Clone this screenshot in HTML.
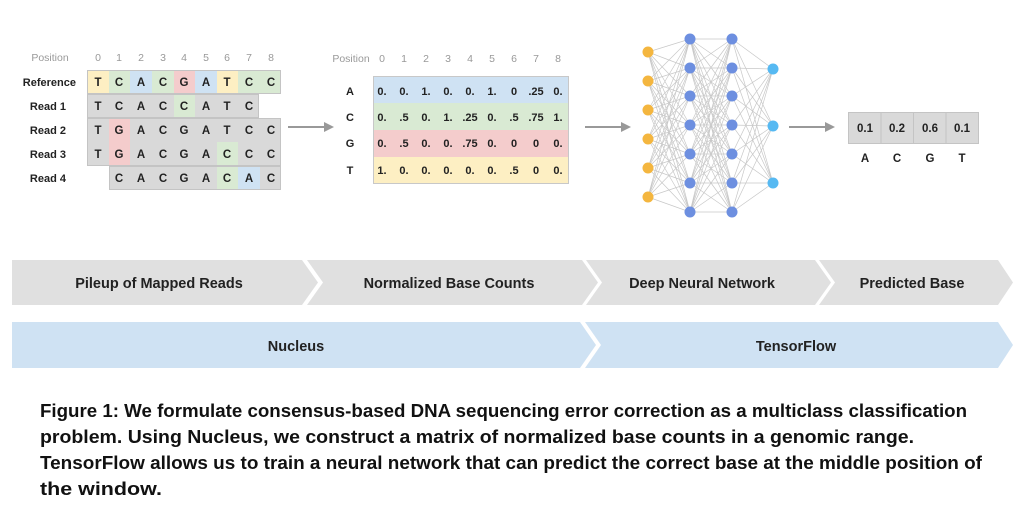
<!DOCTYPE html>
<html><head><meta charset="utf-8"><style>
html,body{margin:0;padding:0;background:#fff;}
svg{display:block;font-family:"Liberation Sans",sans-serif;}
</style></head><body>
<svg width="1024" height="512" viewBox="0 0 1024 512" xmlns="http://www.w3.org/2000/svg">
<rect width="1024" height="512" fill="#fff"/>
<g font-size="10.5" fill="#999" text-anchor="middle">
<text x="50" y="61">Position</text>
<text x="98" y="61">0</text><text x="119" y="61">1</text><text x="141" y="61">2</text><text x="163" y="61">3</text><text x="184" y="61">4</text><text x="206" y="61">5</text><text x="227" y="61">6</text><text x="249" y="61">7</text><text x="271" y="61">8</text>
</g>
<g font-size="11" font-weight="bold" fill="#222" text-anchor="end">
<text x="76" y="86">Reference</text><text x="66" y="110">Read 1</text><text x="66" y="134">Read 2</text><text x="66" y="158">Read 3</text><text x="66" y="182">Read 4</text>
</g>
<g stroke="none">
<rect x="87" y="70" width="22" height="24" fill="#fdefc3"/>
<rect x="109" y="70" width="21" height="24" fill="#d9ead3"/>
<rect x="130" y="70" width="22" height="24" fill="#cfe2f3"/>
<rect x="152" y="70" width="22" height="24" fill="#d9ead3"/>
<rect x="174" y="70" width="21" height="24" fill="#f4cccc"/>
<rect x="195" y="70" width="22" height="24" fill="#cfe2f3"/>
<rect x="217" y="70" width="21" height="24" fill="#fdefc3"/>
<rect x="238" y="70" width="43" height="24" fill="#d9ead3"/>
<rect x="87" y="94" width="172" height="24" fill="#d9d9d9"/>
<rect x="174" y="94" width="21" height="24" fill="#d9ead3"/>
<rect x="87" y="118" width="194" height="48" fill="#d9d9d9"/>
<rect x="109" y="118" width="21" height="48" fill="#f4cccc"/>
<rect x="217" y="142" width="21" height="24" fill="#d9ead3"/>
<rect x="109" y="166" width="172" height="24" fill="#d9d9d9"/>
<rect x="217" y="166" width="21" height="24" fill="#d9ead3"/>
<rect x="238" y="166" width="22" height="24" fill="#cfe2f3"/>
</g>
<g fill="none" stroke="#c4c4c4" stroke-width="1">
<rect x="87.5" y="70.5" width="193" height="23"/>
<rect x="87.5" y="94.5" width="171" height="23"/>
<rect x="87.5" y="118.5" width="193" height="47"/>
<rect x="109.5" y="166.5" width="171" height="23"/>
</g>
<g font-size="11.5" font-weight="bold" fill="#222" text-anchor="middle">
<g transform="translate(0,86)"><text x="98">T</text><text x="119">C</text><text x="141">A</text><text x="163">C</text><text x="184">G</text><text x="206">A</text><text x="227">T</text><text x="249">C</text><text x="271">C</text></g>
<g transform="translate(0,110)"><text x="98">T</text><text x="119">C</text><text x="141">A</text><text x="163">C</text><text x="184">C</text><text x="206">A</text><text x="227">T</text><text x="249">C</text></g>
<g transform="translate(0,134)"><text x="98">T</text><text x="119">G</text><text x="141">A</text><text x="163">C</text><text x="184">G</text><text x="206">A</text><text x="227">T</text><text x="249">C</text><text x="271">C</text></g>
<g transform="translate(0,158)"><text x="98">T</text><text x="119">G</text><text x="141">A</text><text x="163">C</text><text x="184">G</text><text x="206">A</text><text x="227">C</text><text x="249">C</text><text x="271">C</text></g>
<g transform="translate(0,182)"><text x="119">C</text><text x="141">A</text><text x="163">C</text><text x="184">G</text><text x="206">A</text><text x="227">C</text><text x="249">A</text><text x="271">C</text></g>
</g>
<g stroke="#999" stroke-width="2" fill="#999">
<line x1="288" y1="127" x2="325" y2="127"/><polygon points="324,122 334,127 324,132" stroke="none"/>
<line x1="585" y1="127" x2="622" y2="127"/><polygon points="621,122 631,127 621,132" stroke="none"/>
<line x1="789" y1="127" x2="826" y2="127"/><polygon points="825,122 835,127 825,132" stroke="none"/>
</g>
<g font-size="10.5" fill="#999" text-anchor="middle">
<text x="351" y="62">Position</text>
<text x="382" y="62">0</text><text x="404" y="62">1</text><text x="426" y="62">2</text><text x="448" y="62">3</text><text x="470" y="62">4</text><text x="492" y="62">5</text><text x="514" y="62">6</text><text x="536" y="62">7</text><text x="558" y="62">8</text>
</g>
<rect x="373" y="76" width="196" height="27" fill="#cfe2f3"/>
<rect x="373" y="103" width="196" height="27" fill="#d9ead3"/>
<rect x="373" y="130" width="196" height="27" fill="#f4cccc"/>
<rect x="373" y="157" width="196" height="27" fill="#fdefc3"/>
<rect x="373.5" y="76.5" width="195" height="107" fill="none" stroke="#c8c8c8"/>
<g font-size="11" font-weight="bold" fill="#222" text-anchor="middle">
<text x="350" y="95">A</text><text x="350" y="121">C</text><text x="350" y="147">G</text><text x="350" y="174">T</text>
<g transform="translate(0,95)"><text x="382">0.</text><text x="404">0.</text><text x="426">1.</text><text x="448">0.</text><text x="470">0.</text><text x="492">1.</text><text x="514">0</text><text x="536">.25</text><text x="558">0.</text></g>
<g transform="translate(0,121)"><text x="382">0.</text><text x="404">.5</text><text x="426">0.</text><text x="448">1.</text><text x="470">.25</text><text x="492">0.</text><text x="514">.5</text><text x="536">.75</text><text x="558">1.</text></g>
<g transform="translate(0,147)"><text x="382">0.</text><text x="404">.5</text><text x="426">0.</text><text x="448">0.</text><text x="470">.75</text><text x="492">0.</text><text x="514">0</text><text x="536">0</text><text x="558">0.</text></g>
<g transform="translate(0,174)"><text x="382">1.</text><text x="404">0.</text><text x="426">0.</text><text x="448">0.</text><text x="470">0.</text><text x="492">0.</text><text x="514">.5</text><text x="536">0</text><text x="558">0.</text></g>
</g>
<g stroke="#c8c8c8" stroke-width="0.7" fill="none">
<path d="M648 52L690 39M648 52L690 68M648 52L690 96M648 52L690 125M648 52L690 154M648 52L690 183M648 52L690 212
M648 81L690 39M648 81L690 68M648 81L690 96M648 81L690 125M648 81L690 154M648 81L690 183M648 81L690 212
M648 110L690 39M648 110L690 68M648 110L690 96M648 110L690 125M648 110L690 154M648 110L690 183M648 110L690 212
M648 139L690 39M648 139L690 68M648 139L690 96M648 139L690 125M648 139L690 154M648 139L690 183M648 139L690 212
M648 168L690 39M648 168L690 68M648 168L690 96M648 168L690 125M648 168L690 154M648 168L690 183M648 168L690 212
M648 197L690 39M648 197L690 68M648 197L690 96M648 197L690 125M648 197L690 154M648 197L690 183M648 197L690 212"/>
<path d="M690 39L732 39M690 39L732 68M690 39L732 96M690 39L732 125M690 39L732 154M690 39L732 183M690 39L732 212
M690 68L732 39M690 68L732 68M690 68L732 96M690 68L732 125M690 68L732 154M690 68L732 183M690 68L732 212
M690 96L732 39M690 96L732 68M690 96L732 96M690 96L732 125M690 96L732 154M690 96L732 183M690 96L732 212
M690 125L732 39M690 125L732 68M690 125L732 96M690 125L732 125M690 125L732 154M690 125L732 183M690 125L732 212
M690 154L732 39M690 154L732 68M690 154L732 96M690 154L732 125M690 154L732 154M690 154L732 183M690 154L732 212
M690 183L732 39M690 183L732 68M690 183L732 96M690 183L732 125M690 183L732 154M690 183L732 183M690 183L732 212
M690 212L732 39M690 212L732 68M690 212L732 96M690 212L732 125M690 212L732 154M690 212L732 183M690 212L732 212"/>
<path d="M732 39L773 69M732 39L773 126M732 39L773 183M732 68L773 69M732 68L773 126M732 68L773 183M732 96L773 69M732 96L773 126M732 96L773 183M732 125L773 69M732 125L773 126M732 125L773 183M732 154L773 69M732 154L773 126M732 154L773 183M732 183L773 69M732 183L773 126M732 183L773 183M732 212L773 69M732 212L773 126M732 212L773 183"/>
</g>
<g fill="#f4b63f">
<circle cx="648" cy="52" r="5.5"/><circle cx="648" cy="81" r="5.5"/><circle cx="648" cy="110" r="5.5"/><circle cx="648" cy="139" r="5.5"/><circle cx="648" cy="168" r="5.5"/><circle cx="648" cy="197" r="5.5"/>
</g>
<g fill="#6d8fe0">
<circle cx="690" cy="39" r="5.5"/><circle cx="690" cy="68" r="5.5"/><circle cx="690" cy="96" r="5.5"/><circle cx="690" cy="125" r="5.5"/><circle cx="690" cy="154" r="5.5"/><circle cx="690" cy="183" r="5.5"/><circle cx="690" cy="212" r="5.5"/>
<circle cx="732" cy="39" r="5.5"/><circle cx="732" cy="68" r="5.5"/><circle cx="732" cy="96" r="5.5"/><circle cx="732" cy="125" r="5.5"/><circle cx="732" cy="154" r="5.5"/><circle cx="732" cy="183" r="5.5"/><circle cx="732" cy="212" r="5.5"/>
</g>
<g fill="#56b9f2">
<circle cx="773" cy="69" r="5.5"/><circle cx="773" cy="126" r="5.5"/><circle cx="773" cy="183" r="5.5"/>
</g>
<rect x="848.5" y="112.5" width="130" height="31" fill="#d9d9d9" stroke="#c4c4c4"/>
<g stroke="#c4c4c4"><line x1="881" y1="113" x2="881" y2="143"/><line x1="913.5" y1="113" x2="913.5" y2="143"/><line x1="946" y1="113" x2="946" y2="143"/></g>
<g font-size="11.5" font-weight="bold" fill="#222" text-anchor="middle">
<text x="865" y="132">0.1</text><text x="897" y="132">0.2</text><text x="930" y="132">0.6</text><text x="962" y="132">0.1</text>
<text x="865" y="162">A</text><text x="897" y="162">C</text><text x="930" y="162">G</text><text x="962" y="162">T</text>
</g>
<g fill="#e0e0e0">
<polygon points="12,260 302,260 318,282.5 302,305 12,305"/>
<polygon points="307,260 582,260 598,282.5 582,305 307,305 323,282.5"/>
<polygon points="586,260 815,260 831,282.5 815,305 586,305 602,282.5"/>
<polygon points="819,260 998,260 1013,282.5 998,305 819,305 835,282.5"/>
</g>
<g fill="#cfe2f3">
<polygon points="12,322 580,322 596,345 580,368 12,368"/>
<polygon points="585,322 998,322 1013,345 998,368 585,368 601,345"/>
</g>
<g font-size="14.5" font-weight="bold" fill="#222" text-anchor="middle">
<text x="159" y="288">Pileup of Mapped Reads</text>
<text x="449" y="288">Normalized Base Counts</text>
<text x="702" y="288">Deep Neural Network</text>
<text x="912" y="288">Predicted Base</text>
<text x="296" y="351">Nucleus</text>
<text x="796" y="351">TensorFlow</text>
</g>
<g font-size="18" font-weight="bold" fill="#111">
<text x="40" y="417" textLength="927" lengthAdjust="spacingAndGlyphs">Figure 1: We formulate consensus-based DNA sequencing error correction as a multiclass classification</text>
<text x="40" y="443" textLength="874" lengthAdjust="spacingAndGlyphs">problem. Using Nucleus, we construct a matrix of normalized base counts in a genomic range.</text>
<text x="40" y="469" textLength="942" lengthAdjust="spacingAndGlyphs">TensorFlow allows us to train a neural network that can predict the correct base at the middle position of</text>
<text x="40" y="495" textLength="122" lengthAdjust="spacingAndGlyphs">the window.</text>
</g>
</svg>
</body></html>
